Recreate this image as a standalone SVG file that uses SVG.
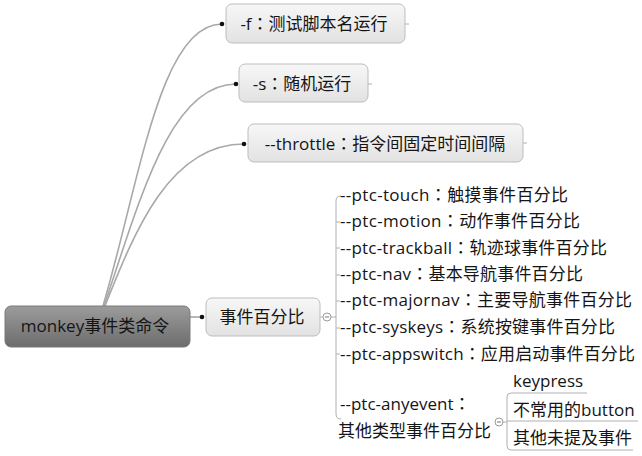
<svg xmlns="http://www.w3.org/2000/svg" width="642" height="456" viewBox="0 0 642 456">
<defs>
<linearGradient id="gRoot" x1="0" y1="0" x2="0" y2="1">
<stop offset="0" stop-color="#9c9c9c"/>
<stop offset="1" stop-color="#6c6c6c"/>
</linearGradient>
<linearGradient id="gNode" x1="0" y1="0" x2="0" y2="1">
<stop offset="0" stop-color="#f7f7f7"/>
<stop offset="1" stop-color="#e2e2e2"/>
</linearGradient>
<style>
text{font-family:"Open Sans","Noto Sans CJK SC",sans-serif;font-size:17px;fill:#151515}
.c{font-family:"Noto Sans CJK TC",sans-serif}
.node{fill:url(#gNode);stroke:#bdbdbd;stroke-width:1}
.root{fill:url(#gRoot);stroke:#7a7a7a;stroke-width:1}
.curve{fill:none;stroke:#a8a8a8;stroke-width:1.6}
.br{fill:none;stroke:#b0b0b0;stroke-width:1}
.dot{fill:#111}
.col{fill:#fff;stroke:#9a9a9a;stroke-width:1}
.mid{text-anchor:middle}
</style>
</defs>
<rect width="642" height="456" fill="#fff"/>

<g id="connectors">
<path class="curve" d="M103,306 C140,180 160,24 222,24"/>
<path class="curve" d="M104,306 C140,200 170,84 236,84"/>
<path class="curve" d="M105,306 C135,230 170,144 244,144"/>
<path class="br" d="M405,24 H409 M368,84 H372 M523,143 H527"/>
<path class="curve" d="M190,317 H202"/>
<circle class="dot" cx="222" cy="24" r="2.3"/>
<circle class="dot" cx="236" cy="84" r="2.3"/>
<circle class="dot" cx="244" cy="144" r="2.3"/>
<circle class="dot" cx="202" cy="317" r="2.3"/>
<path class="br" d="M320,317 H323 M331,317 H336"/>
<path class="br" d="M341,196 Q336,196 336,201 V414 Q336,419 341,419"/>
<path class="br" d="M336,222 H340 M336,248 H340 M336,275 H340 M336,301 H340 M336,328 H340 M336,354 H340"/>
<circle class="col" cx="327" cy="317" r="4"/>
<path d="M325,317 H329" stroke="#777" stroke-width="1"/>
<path class="br" d="M503,422 H507"/>
<path class="br" d="M587,393 H511 Q507,393 507,397 V446 Q507,450 511,450 H633 M507,421 H638"/>
<circle class="col" cx="499" cy="422" r="4"/>
<path d="M497,422 H501" stroke="#777" stroke-width="1"/>
</g>

<g id="root">
<rect class="root" x="5" y="306" width="185" height="41" rx="6"/>
<text class="mid" x="95" y="332">monkey事件类命令</text>
</g>

<g id="node-f">
<rect class="node" x="226" y="4" width="179" height="39" rx="6"/>
<text class="mid" x="314" y="30">-f<tspan class="c">：</tspan>测试脚本名运行</text>
</g>

<g id="node-s">
<rect class="node" x="239" y="64" width="129" height="38" rx="6"/>
<text class="mid" x="302" y="90">-s<tspan class="c">：</tspan>随机运行</text>
</g>

<g id="node-throttle">
<rect class="node" x="248" y="124" width="275" height="38" rx="6"/>
<text class="mid" x="385" y="150">--throttle<tspan class="c">：</tspan>指令间固定时间间隔</text>
</g>

<g id="node-pct">
<rect class="node" x="206" y="298" width="114" height="38" rx="6"/>
<text class="mid" x="262" y="323">事件百分比</text>
</g>

<g id="item-touch"><text x="340" y="201" textLength="228">--ptc-touch<tspan class="c">：</tspan>触摸事件百分比</text></g>
<g id="item-motion"><text x="340" y="227" textLength="240">--ptc-motion<tspan class="c">：</tspan>动作事件百分比</text></g>
<g id="item-trackball"><text x="340" y="253.5" textLength="267">--ptc-trackball<tspan class="c">：</tspan>轨迹球事件百分比</text></g>
<g id="item-nav"><text x="340" y="280" textLength="243">--ptc-nav<tspan class="c">：</tspan>基本导航事件百分比</text></g>
<g id="item-majornav"><text x="340" y="306" textLength="292">--ptc-majornav<tspan class="c">：</tspan>主要导航事件百分比</text></g>
<g id="item-syskeys"><text x="340" y="333" textLength="275">--ptc-syskeys<tspan class="c">：</tspan>系统按键事件百分比</text></g>
<g id="item-appswitch"><text x="340" y="359.5" textLength="295">--ptc-appswitch<tspan class="c">：</tspan>应用启动事件百分比</text></g>
<g id="item-anyevent">
<text x="340" y="410">--ptc-anyevent<tspan class="c">：</tspan></text>
<text x="338" y="437">其他类型事件百分比</text>
</g>
<g id="sub-keypress"><text x="513" y="387">keypress</text></g>
<g id="sub-button"><text x="513" y="416">不常用的button</text></g>
<g id="sub-other"><text x="513" y="444">其他未提及事件</text></g>
</svg>
